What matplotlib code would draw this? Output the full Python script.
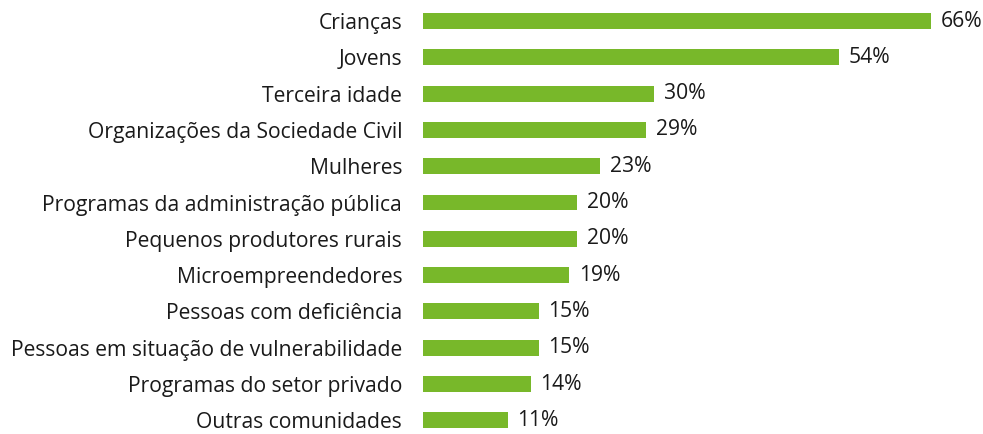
import matplotlib
matplotlib.use("Agg")
import matplotlib.pyplot as plt

categories = [
    "Crianças",
    "Jovens",
    "Terceira idade",
    "Organizações da Sociedade Civil",
    "Mulheres",
    "Programas da administração pública",
    "Pequenos produtores rurais",
    "Microempreendedores",
    "Pessoas com deficiência",
    "Pessoas em situação de vulnerabilidade",
    "Programas do setor privado",
    "Outras comunidades",
]
values = [66, 54, 30, 29, 23, 20, 20, 19, 15, 15, 14, 11]

GREEN = "#78b82a"
TEXT = "#1a1a1a"

plt.rcParams["font.family"] = ["Open Sans", "DejaVu Sans"]

W, H = 983, 434
fig = plt.figure(figsize=(W / 100, H / 100), dpi=100)

left_px = 423
px_per_unit = 7.7
first_row_px = 21
row_px = 36.3

ax = fig.add_axes([left_px / W, 0, 1 - left_px / W, 1])
rows = list(range(len(categories)))
ax.barh(rows, values, height=0.44, color=GREEN)

ax.set_xlim(0, (W - left_px) / px_per_unit)
ax.set_ylim((H - first_row_px) / row_px, -first_row_px / row_px)

ax.set_yticks(rows)
ax.set_yticklabels(categories, fontsize=15.2, color=TEXT)
ax.tick_params(axis="y", length=0, pad=15)
ax.set_xticks([])
for s in ax.spines.values():
    s.set_visible(False)

for r, v in zip(rows, values):
    ax.annotate(f"{v}%", (v, r), xytext=(7, 0), textcoords="offset points",
                va="center", ha="left", fontsize=15.2, color=TEXT)

fig.savefig("out.png", dpi=100)
